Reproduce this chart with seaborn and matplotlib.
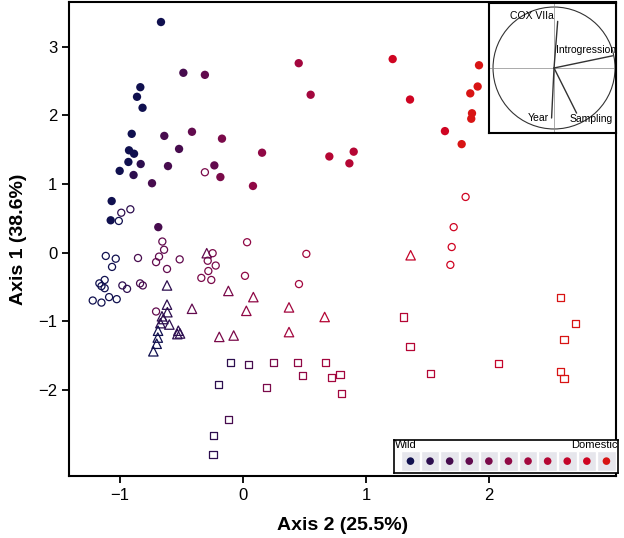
import numpy as np
import pandas as pd
import matplotlib
matplotlib.use('Agg')
import matplotlib.pyplot as plt
import seaborn as sns
from matplotlib.patches import Circle

sns.set_theme(style='ticks')
plt.rcParams['font.family'] = ['Liberation Sans', 'DejaVu Sans']
plt.rcParams['text.color'] = 'black'
plt.rcParams['axes.labelcolor'] = 'black'
plt.rcParams['xtick.color'] = 'black'
plt.rcParams['ytick.color'] = 'black'

# colour scale, wild (0) -> domestic (10)
level_colors = ['#10104f', '#2d0e4f', '#470c4e', '#620b4e', '#7a0a4a', '#900845',
                '#a3073e', '#b50634', '#c4052b', '#cf0422', '#d81414']

# filled circles
fc_x = [-0.667, -0.485, -0.31, -0.835, -0.862, -0.817, -0.905, -0.64, -0.415, -0.171,
        -0.927, -0.886, -0.52, -0.932, -0.832, -0.61, -0.233, -1.003, -0.89, -0.184,
        -0.74, 0.081, 0.155, -1.068, -1.076, -0.689, 0.702, 0.90, 0.865, 1.217,
        1.358, 1.919, 1.908, 1.848, 1.862, 1.856, 1.642, 1.778, 0.453, 0.55]
fc_y = [3.36, 2.62, 2.59, 2.41, 2.27, 2.11, 1.73, 1.70, 1.76, 1.66,
        1.49, 1.44, 1.51, 1.32, 1.29, 1.26, 1.27, 1.19, 1.13, 1.10,
        1.01, 0.97, 1.455, 0.75, 0.47, 0.37, 1.40, 1.47, 1.30, 2.82,
        2.23, 2.73, 2.42, 2.32, 2.03, 1.95, 1.77, 1.58, 2.76, 2.30]
fc_lev = [0, 2, 3, 0, 0, 0, 0, 2, 3, 4,
          0, 0, 2, 0, 1, 2, 3, 0, 1, 4,
          2, 5, 5, 0, 0, 2, 7, 7, 7, 9,
          9, 10, 10, 10, 10, 10, 9, 10, 6, 6]

# open circles
oc_x = [-0.31, -0.99, -0.916, -1.01, -1.116, -1.035, -1.065, -0.854, -0.656, -0.642,
        -0.683, -0.707, -0.618, -0.515, 0.033, -0.247, -0.287, -0.222, -0.282, -0.339,
        -0.258, 0.016, -1.168, -1.125, -1.151, -1.125, -0.981, -0.943, -0.837, -0.815,
        -1.222, -1.151, -1.089, -1.027, -0.707, 0.515, 0.455, 1.81, 1.713, 1.697, 1.686]
oc_y = [1.17, 0.58, 0.63, 0.46, -0.05, -0.09, -0.21, -0.08, 0.16, 0.04,
        -0.06, -0.14, -0.24, -0.10, 0.15, -0.01, -0.12, -0.19, -0.27, -0.37,
        -0.40, -0.34, -0.45, -0.40, -0.49, -0.52, -0.48, -0.53, -0.45, -0.48,
        -0.70, -0.73, -0.65, -0.68, -0.86, -0.02, -0.46, 0.81, 0.37, 0.08, -0.18]
oc_lev = [4, 1, 1, 0, 0, 0, 0, 2, 3, 3,
          3, 3, 3, 3, 5, 4, 4, 4, 4, 4,
          4, 5, 0, 0, 0, 0, 1, 1, 2, 2,
          0, 0, 0, 0, 3, 6, 6, 9, 9, 9, 9]

# triangles
tr_x = [-0.295, -0.618, -0.119, 0.084, -0.415, -0.618, -0.615, -0.659, -0.648, -0.672,
        -0.599, -0.691, -0.526, -0.512, -0.534, -0.693, -0.702, -0.729, 0.027, -0.193,
        -0.076, 0.374, 0.664, 0.374, 1.363]
tr_y = [-0.01, -0.48, -0.56, -0.65, -0.82, -0.76, -0.87, -0.93, -0.97, -1.03,
        -1.05, -1.14, -1.14, -1.18, -1.19, -1.24, -1.33, -1.44, -0.85, -1.23,
        -1.21, -0.80, -0.94, -1.16, -0.04]
tr_lev = [3, 1, 4, 5, 3, 1, 1, 1, 1, 1,
          1, 0, 1, 1, 1, 0, 0, 0, 5, 4,
          4, 6, 7, 6, 8]

# squares
sq_x = [-0.1, 0.043, -0.198, -0.119, -0.238, -0.244, 0.247, 0.19, 0.444, 0.485,
        0.669, 0.721, 0.789, 0.8, 1.303, 1.358, 1.526, 2.076, 2.585, 2.70,
        2.61, 2.585, 2.61]
sq_y = [-1.61, -1.63, -1.92, -2.43, -2.67, -2.95, -1.60, -1.97, -1.60, -1.79,
        -1.60, -1.82, -1.78, -2.06, -0.94, -1.37, -1.77, -1.62, -0.65, -1.04,
        -1.27, -1.74, -1.83]
sq_lev = [1, 2, 1, 2, 1, 1, 4, 4, 5, 5,
          6, 6, 6, 6, 7, 7, 7, 8, 10, 10,
          10, 10, 10]

# correlation circle vectors
vec_names = ['COX VIIa', 'Introgression', 'Sampling', 'Year']
vec_x = [0.06, 0.96, 0.37, -0.04]
vec_y = [0.765, 0.20, -0.74, -0.82]


def frame(x, y, lev, kind):
    return pd.DataFrame({'ax2': x, 'ax1': y, 'level': lev, 'kind': kind})


df = pd.concat([frame(fc_x, fc_y, fc_lev, 'fc'), frame(oc_x, oc_y, oc_lev, 'oc'),
                frame(tr_x, tr_y, tr_lev, 'tr'), frame(sq_x, sq_y, sq_lev, 'sq')],
               ignore_index=True)

pal = dict(enumerate(level_colors))

fig = plt.figure(figsize=(6.24, 5.38), dpi=100)
ax = fig.add_axes([69 / 624, 1 - 476 / 538, 547 / 624, 474 / 538])

styles = {'fc': ('o', 36), 'oc': ('o', 26), 'tr': ('^', 46), 'sq': ('s', 26)}
for kind, (m, s) in styles.items():
    sub = df[df.kind == kind]
    sns.scatterplot(data=sub, x='ax2', y='ax1', hue='level', palette=pal, marker=m,
                    s=s, legend=False, ax=ax, linewidth=0 if kind == 'fc' else 0.9)
    if kind != 'fc':
        coll = ax.collections[-1]
        coll.set_edgecolors(coll.get_facecolors())
        coll.set_facecolors('none')

ax.set_xlim(-1.415, 3.033)
ax.set_ylim(-3.258, 3.652)
ax.set_xticks([-1, 0, 1, 2])
ax.set_yticks([-2, -1, 0, 1, 2, 3])
ax.tick_params(labelsize=12, length=5, width=1.3, color='black', labelcolor='black')
for sp in ax.spines.values():
    sp.set_linewidth(1.5)
    sp.set_color('black')
ax.set_xlabel('Axis 2 (25.5%)', fontsize=14, fontweight='bold', labelpad=10)
ax.set_ylabel('Axis 1 (38.6%)', fontsize=14, fontweight='bold', labelpad=8)

# inset: correlation circle
iax = fig.add_axes([489 / 624, 1 - 133 / 538, 127 / 624, 130 / 538])
iax.set_xlim(-1.066, 1.016)
iax.set_ylim(-1.066, 1.066)
iax.set_xticks([])
iax.set_yticks([])
iax.set_facecolor('white')
for sp in iax.spines.values():
    sp.set_linewidth(1.5)
    sp.set_color('black')
iax.axhline(0, color='#888888', lw=0.5)
iax.axvline(0, color='#888888', lw=0.5)
iax.add_patch(Circle((0, 0), 1, fill=False, ec='#333333', lw=0.8))
for vx, vy in zip(vec_x, vec_y):
    iax.plot([0, vx], [0, vy], color='#333333', lw=1.0)
iax.text(0.0, 0.85, vec_names[0], ha='right', va='center', fontsize=7.5)
iax.text(0.03, 0.30, vec_names[1], ha='left', va='center', fontsize=7.5)
iax.text(0.26, -0.84, vec_names[2], ha='left', va='center', fontsize=7.5)
iax.text(-0.09, -0.82, vec_names[3], ha='right', va='center', fontsize=7.5)

# colour legend
lax = fig.add_axes([394 / 624, 1 - 473 / 538, 224 / 624, 33 / 538])
lax.set_xlim(-0.84, 10.59)
lax.set_ylim(0, 1)
lax.set_xticks([])
lax.set_yticks([])
lax.set_facecolor('white')
for sp in lax.spines.values():
    sp.set_linewidth(1.2)
    sp.set_color('black')
levels = list(range(len(level_colors)))
lax.bar(levels, 0.61, bottom=0.06, width=0.95, color='#e6e6ec')
sns.scatterplot(x=levels, y=[0.36] * len(levels), hue=levels, palette=pal, s=30,
                linewidth=0, legend=False, ax=lax)
lax.text(-0.8, 1.0, 'Wild', ha='left', va='top', fontsize=8)
lax.text(10.57, 1.0, 'Domestic', ha='right', va='top', fontsize=8)

plt.savefig('out.png', dpi=100)
